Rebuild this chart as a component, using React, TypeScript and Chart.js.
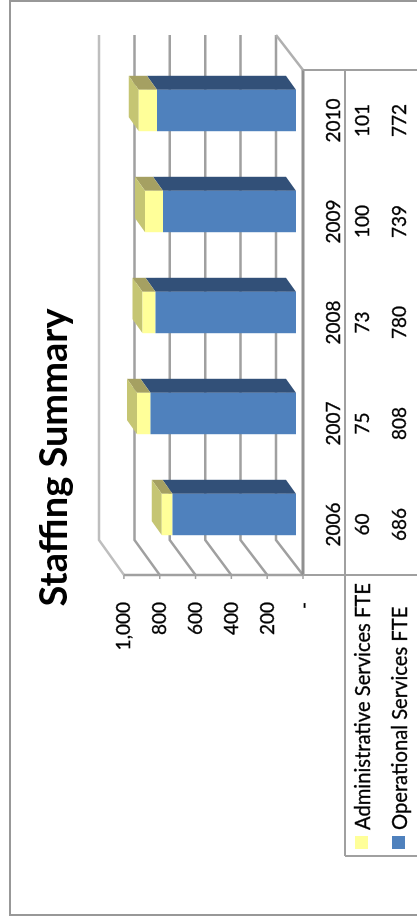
import React, { useEffect, useRef } from "react";
import { Chart, registerables } from "chart.js";

Chart.register(...registerables);

const years = ["2006", "2007", "2008", "2009", "2010"];
const adminLabel = "Administrative Services FTE";
const opsLabel = "Operational Services FTE";
const adminValues = [60, 75, 73, 100, 101];
const opsValues = [686, 808, 780, 739, 772];
const valueTicks = [0, 200, 400, 600, 800, 1000];
const chartTitle = "Staffing Summary";

const FONT = "Lato, Carlito, sans-serif";
const GRID = "#A0A0A0";

const scene3d = {
  id: "scene3d",
  beforeDatasetsDraw(chart: any) {
    const { ctx, scales } = chart;
    const xs = scales.x;
    const ys = scales.y;
    const zero = ys.getPixelForValue(0);
    const line = (pts: number[][], color = GRID, w = 2) => {
      ctx.beginPath();
      pts.forEach((p, i) => (i ? ctx.lineTo(p[0], p[1]) : ctx.moveTo(p[0], p[1])));
      ctx.strokeStyle = color;
      ctx.lineWidth = w;
      ctx.stroke();
    };
    const frontLeft = xs.left - 10;
    const frontRight = xs.right - 10;
    const floor = 303;
    ctx.save();
    // page border
    ctx.strokeStyle = "#989898";
    ctx.lineWidth = 2;
    ctx.strokeRect(2, 10, 914, 420);
    valueTicks.forEach((v, i) => {
      const d = ys.getPixelForValue(v) - zero;
      const back = 276 + d * 0.983;
      const front = floor + d * 0.995;
      const c = i === valueTicks.length - 1 ? "#BEBEBE" : GRID;
      line([[frontLeft, front], [frontLeft + 35, back], [frontRight + 35, back]], c, 2.5);
      line([[frontLeft, front], [frontLeft - 4, front]], GRID, 1.5);
    });
    // front axis lines
    line([[frontLeft, floor + (ys.getPixelForValue(1000) - zero) * 0.995], [frontLeft, floor]], GRID, 2.5);
    line([[frontLeft, floor], [frontRight, floor]], "#909090", 3);
    line([[frontRight, floor], [frontRight + 35, 276]], "#B0B0B0", 2.5);
    // data-table rules
    line([[frontRight, floor], [frontRight, 417]], GRID, 2);
    line([[frontLeft, floor], [frontLeft, 417]], GRID, 2);
    line([[61, 345], [frontRight, 345]], GRID, 2);
    line([[61, 345], [61, 417]], GRID, 2);

    // 3D faces of the stacked columns
    const depthU = 14;
    const depthV = -10;
    const poly = (pts: number[][], color: string) => {
      ctx.beginPath();
      pts.forEach((p, i) => (i ? ctx.lineTo(p[0], p[1]) : ctx.moveTo(p[0], p[1])));
      ctx.closePath();
      ctx.fillStyle = color;
      ctx.fill();
    };
    const sideColors = ["#325078", "#A5A062"];
    [0, 1].forEach((di) => {
      chart.getDatasetMeta(di).data.forEach((bar: any) => {
        const { x, y, base, width } = bar.getProps(["x", "y", "base", "width"], true);
        const r = x + width / 2;
        const l = x - width / 2;
        poly([[r, y], [r + depthU, y + depthV], [r + depthU, base + depthV], [r, base]], sideColors[di]);
        if (di === 1) {
          poly([[l, y], [r, y], [r + depthU, y + depthV], [l + depthU, y + depthV]], "#C5C573");
        }
      });
    });
    ctx.restore();
  },
  afterDraw(chart: any) {
    const { ctx, scales } = chart;
    const xs = scales.x;
    ctx.save();
    ctx.fillStyle = "#000";
    ctx.strokeStyle = "#000";
    ctx.lineWidth = 0.3;
    ctx.textBaseline = "middle";
    ctx.textAlign = "center";
    ctx.font = `19px ${FONT}`;
    const put = (s: string, u: number, v: number) => {
      ctx.fillText(s, u, v);
      ctx.strokeText(s, u, v);
    };
    years.forEach((_, i) => {
      const c = xs.getPixelForValue(i) - 10;
      put(String(adminValues[i]), c, 363);
      put(String(opsValues[i]), c, 400);
    });
    ctx.textAlign = "left";
    ctx.font = `20.2px ${FONT}`;
    put(adminLabel, 87, 363);
    put(opsLabel, 87, 400);
    ctx.fillStyle = "#FFFF99";
    ctx.fillRect(68, 355, 13, 13);
    ctx.fillStyle = "#4F81BD";
    ctx.fillRect(68, 392, 13, 13);
    ctx.restore();
  },
};

export default function App() {
  const ref = useRef<HTMLCanvasElement>(null);
  useEffect(() => {
    const tickFont = { family: FONT, size: 19 };
    const chart = new Chart(ref.current as HTMLCanvasElement, {
      type: "bar",
      data: {
        labels: years,
        datasets: [
          { label: opsLabel, data: opsValues, backgroundColor: "#4F81BD" },
          { label: adminLabel, data: adminValues, backgroundColor: "#FFFF99" },
        ],
      },
      options: {
        animation: false,
        responsive: false,
        devicePixelRatio: 1,
        layout: { padding: { left: 62, top: 0, right: 60, bottom: 0 } },
        datasets: { bar: { barPercentage: 0.41, categoryPercentage: 1 } },
        plugins: {
          legend: { display: false },
          tooltip: { enabled: false },
          title: {
            display: true,
            text: chartTitle,
            color: "#000",
            font: { family: FONT, size: 38, weight: "bold", lineHeight: 1.2 },
            padding: { top: 32, bottom: 38.4 },
          },
        },
        scales: {
          x: {
            stacked: true,
            border: { display: false },
            grid: { display: false, drawTicks: false },
            afterFit: (s: any) => { s.height = 121; },
            ticks: {
              color: "#000",
              font: tickFont,
              padding: 26,
              labelOffset: -10,
              maxRotation: 0,
              minRotation: 0,
              autoSkip: false,
              textStrokeColor: "#000",
              textStrokeWidth: 0.3,
            },
          },
          y: {
            stacked: true,
            min: 0,
            max: 1000,
            border: { display: false },
            grid: { display: false, drawTicks: false },
            afterFit: (s: any) => { s.width = 290; },
            afterBuildTicks: (s: any) => { s.ticks = valueTicks.map((value) => ({ value })); },
            ticks: {
              color: "#000",
              font: tickFont,
              padding: 37,
              labelOffset: 7.5,
              textStrokeColor: "#000",
              textStrokeWidth: 0.3,
              callback: (v: any) => (v === 0 ? "-" : Number(v).toLocaleString("en-US")),
            },
          },
        },
      },
      plugins: [scene3d],
    } as any);
    return () => chart.destroy();
  }, []);
  return (
    <div style={{ position: "fixed", left: 0, top: 0, width: 417, height: 917, overflow: "hidden", background: "#fff" }}>
      <canvas
        ref={ref}
        width={917}
        height={417}
        style={{ position: "absolute", left: 0, top: 0, transformOrigin: "0 0", transform: "translateY(917px) rotate(-90deg)", filter: "blur(0.35px)" }}
      />
    </div>
  );
}
